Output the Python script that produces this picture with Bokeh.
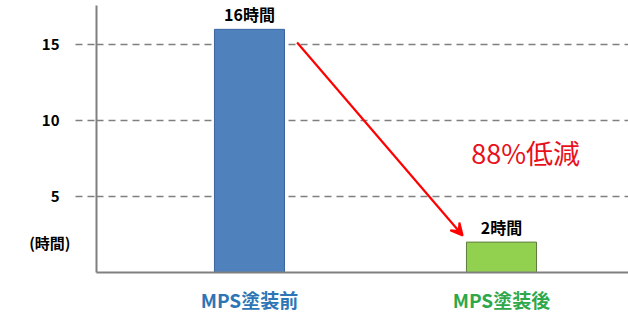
from bokeh.plotting import figure
from bokeh.models import Range1d, FixedTicker, Label, Arrow, VeeHead, ColumnDataSource, LinearAxis
from bokeh.core.properties import value
from bokeh.embed import file_html
from bokeh.resources import INLINE

categories = ["MPS塗装前", "MPS塗装後"]
hours = [16, 2]
bar_labels = ["16時間", "2時間"]
y_ticks = [5, 10, 15]
unit_label = "(時間)"
bar_colors = ["#4F81BD", "#92D050"]
bar_lines = ["#3B64A0", "#5E7D3E"]
cat_colors = ["#2E75B6", "#2EA84A"]

xs = [1, 2]
bar_w = 0.278
reduction = round((1 - hours[1] / hours[0]) * 100)

FONT = "Noto Sans CJK JP"
CAT_SIZE = 19
CAT_H = 30          # approx. rendered label height for the category font
CAT_STANDOFF = 13

p = figure(width=628, height=315, output_backend="svg", toolbar_location=None,
           x_range=Range1d(0.393, 2.504), y_range=Range1d(0, 17.57),
           min_border_left=96, min_border_right=0, min_border_top=5, min_border_bottom=43)
p.outline_line_color = None
p.background_fill_color = "white"
p.border_fill_color = "white"

# grid
p.xgrid.visible = False
p.ygrid.ticker = FixedTicker(ticks=y_ticks)
p.ygrid.grid_line_color = "#7F7F7F"
p.ygrid.grid_line_dash = "7 5"
p.ygrid.grid_line_width = 1.3

# y axis
ya = p.yaxis[0]
ya.ticker = FixedTicker(ticks=y_ticks)
ya.axis_line_color = "#808080"
ya.axis_line_width = 2
ya.major_tick_out = 21
ya.major_tick_in = 0
ya.major_tick_line_color = "#7F7F7F"
ya.major_tick_line_dash = "7 5"
ya.major_tick_line_width = 1.3
ya.minor_tick_line_color = None
ya.major_label_standoff = 16
ya.major_label_text_font = FONT
ya.major_label_text_font_style = "bold"
ya.major_label_text_font_size = "15px"
ya.major_label_text_color = "black"

# unit label axis
ua = LinearAxis(ticker=FixedTicker(ticks=[2.0]), major_label_overrides={2.0: unit_label},
                axis_line_color=None, major_tick_line_color=None, minor_tick_line_color=None,
                major_tick_out=0, major_tick_in=0, major_label_standoff=-32,
                major_label_text_font=FONT, major_label_text_font_style="bold",
                major_label_text_font_size="15px", major_label_text_color="black")
p.add_layout(ua, "left")

# x axes (one per category, for the per-category colour)
xa = p.xaxis[0]
xa.ticker = FixedTicker(ticks=[xs[0]])
xa.major_label_overrides = {xs[0]: categories[0]}
xa.axis_line_color = "#808080"
xa.axis_line_width = 2
xa.major_tick_line_color = None
xa.minor_tick_line_color = None
xa.major_tick_out = 0
xa.major_tick_in = 0
xa.major_label_standoff = CAT_STANDOFF
xa.major_label_text_font = FONT
xa.major_label_text_font_style = "bold"
xa.major_label_text_font_size = f"{CAT_SIZE}px"
xa.major_label_text_color = cat_colors[0]

xb = LinearAxis(ticker=FixedTicker(ticks=[xs[1]]), major_label_overrides={xs[1]: categories[1]},
                axis_line_color=None, major_tick_line_color=None, minor_tick_line_color=None,
                major_tick_out=0, major_tick_in=0, major_label_standoff=-CAT_H,
                major_label_text_font=FONT, major_label_text_font_style="bold",
                major_label_text_font_size=f"{CAT_SIZE}px", major_label_text_color=cat_colors[1])
p.add_layout(xb, "below")

src = ColumnDataSource(dict(x=xs, top=hours, color=bar_colors, line=bar_lines, lab=bar_labels))
p.vbar(x="x", top="top", width=bar_w, bottom=0, fill_color="color", line_color="line",
       line_width=1, source=src)
p.text(x="x", y="top", text="lab", source=src, text_align="center", text_baseline="bottom",
       y_offset=-3, text_font=value(FONT), text_font_style="bold", text_font_size="16px",
       text_color="black")

# arrow
p.add_layout(Arrow(end=VeeHead(size=12, line_color="#FF0000", fill_color="#FF0000", line_width=2),
                   x_start=xs[0] + bar_w / 2 + 0.05, y_start=hours[0] - 0.87,
                   x_end=xs[1] - bar_w / 2 - 0.015, y_end=hours[1] + 0.43,
                   line_color="#FF0000", line_width=2.2))

p.add_layout(Label(x=2.096, y=7.9, text=f"{reduction}%低減", text_align="center",
                   text_baseline="middle", text_font=FONT, text_font_size="27px",
                   text_color="#E8101A"))

open("out.html", "w").write(file_html(p, INLINE))
